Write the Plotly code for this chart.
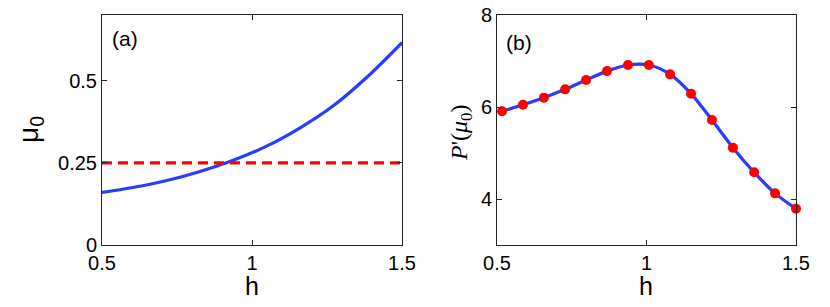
import plotly.graph_objects as go

# Panel (a): mu_0 versus h
h_a = [0.5, 0.602, 0.713, 0.824, 0.935, 1.047, 1.159, 1.27, 1.381, 1.5]
mu0 = [0.16, 0.175, 0.1955, 0.223, 0.257, 0.300, 0.356, 0.423, 0.509, 0.616]
h_ref = [0.5, 1.5]
mu_ref = [0.25, 0.25]

# Panel (b): P(mu_0) versus h
h_b = [0.517, 0.587, 0.657, 0.728, 0.798, 0.868, 0.938, 1.008, 1.079, 1.149, 1.219,
       1.289, 1.36, 1.43, 1.5]
P_b = [5.906, 6.05, 6.203, 6.384, 6.587, 6.78, 6.913, 6.913, 6.71, 6.29, 5.717,
       5.116, 4.58, 4.123, 3.79]

xticks = [0.5, 1, 1.5]
xticklabels = ["0.5", "1", "1.5"]
yticks_a = [0, 0.25, 0.5]
yticklabels_a = ["0", "0.25", "0.5"]
yticks_b = [4, 6, 8]
yticklabels_b = ["4", "6", "8"]

BLUE = "rgb(40,60,250)"
RED = "rgb(255,0,0)"
FONT = "Liberation Sans, Arial, sans-serif"

# page body has an 8px margin; figure is sized to fit the remaining window
W, H = 822, 299
OFF = 8


def px(x):
    return (x - OFF) / W


def py(y):
    return 1 - (y - 15) / 230


fig = go.Figure()
fig.add_trace(go.Scatter(x=h_a, y=mu0, mode="lines", line=dict(color=BLUE, width=3.2, shape="spline"),
                         xaxis="x", yaxis="y", showlegend=False))
fig.add_trace(go.Scatter(x=h_ref, y=mu_ref, mode="lines", line=dict(color=RED, width=3.2, dash="10px,6px"),
                         xaxis="x", yaxis="y", showlegend=False))
fig.add_trace(go.Scatter(x=h_b, y=P_b, mode="lines+markers",
                         line=dict(color=BLUE, width=3.2, shape="spline", smoothing=0.8),
                         marker=dict(color=RED, size=10, line=dict(width=0)),
                         xaxis="x2", yaxis="y2", showlegend=False, cliponaxis=False))

axis_common = dict(showline=True, linecolor="#222", linewidth=1, mirror="ticks",
                   ticks="inside", ticklen=5, tickcolor="#222", showgrid=False, zeroline=False,
                   automargin=False, ticklabeloverflow="allow",
                   tickfont=dict(family=FONT, size=20, color="black"))

fig.update_layout(
    width=W, height=H,
    margin=dict(l=0, r=0, t=15 - OFF, b=H - (245 - OFF), autoexpand=False),
    paper_bgcolor="white", plot_bgcolor="white",
    xaxis=dict(domain=[px(102), px(402)], range=[0.5, 1.5], tickvals=xticks, ticktext=xticklabels,
               anchor="y", **axis_common),
    yaxis=dict(domain=[0, 1], range=[0, 0.7], tickvals=yticks_a, ticktext=yticklabels_a,
               anchor="x", **axis_common),
    xaxis2=dict(domain=[px(497), px(796)], range=[0.5, 1.5], tickvals=xticks, ticktext=xticklabels,
                anchor="y2", **axis_common),
    yaxis2=dict(domain=[0, 1], range=[3, 8], tickvals=yticks_b, ticktext=yticklabels_b,
                anchor="x2", **axis_common),
    annotations=[
        dict(text="(a)", xref="paper", yref="paper", x=px(110), y=py(39), xanchor="left",
             yanchor="middle", showarrow=False, font=dict(family=FONT, size=21, color="black")),
        dict(text="(b)", xref="paper", yref="paper", x=px(504), y=py(42), xanchor="left",
             yanchor="middle", showarrow=False, font=dict(family=FONT, size=21, color="black")),
        dict(text="h", xref="paper", yref="paper", x=px(252), y=py(286), xanchor="center",
             yanchor="middle", showarrow=False, font=dict(family=FONT, size=25, color="black")),
        dict(text="h", xref="paper", yref="paper", x=px(646), y=py(286), xanchor="center",
             yanchor="middle", showarrow=False, font=dict(family=FONT, size=25, color="black")),
        dict(text="μ<sub>0</sub>", xref="paper", yref="paper", x=px(30), y=py(130),
             xanchor="center", yanchor="middle", textangle=-90, showarrow=False,
             font=dict(family=FONT, size=28, color="black")),
        dict(text="<i>P</i>'(<i>μ</i><sub>0</sub>)", xref="paper", yref="paper", x=px(461),
             y=py(133), xanchor="center", yanchor="middle", textangle=-90, showarrow=False,
             font=dict(family="Liberation Serif, Times New Roman, serif", size=24, color="black")),
    ],
)

fig.write_html("out.html")
